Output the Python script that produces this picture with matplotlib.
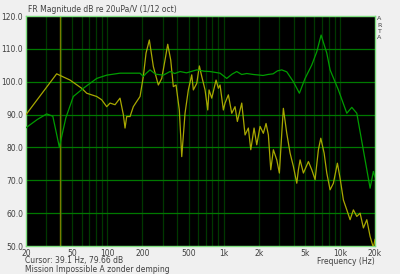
import numpy as np
import matplotlib
matplotlib.use("Agg")
import matplotlib.pyplot as plt

# Green response (Hz, dB)
green_f = [20, 25, 30.1, 34, 38.7, 44, 51.0, 62.2, 81.1, 98.8, 128.6, 156.8, 191, 204,
           215, 233, 260, 303, 346, 380, 422, 480, 587, 680, 764, 860, 931, 1063, 1180,
           1296, 1430, 1580, 1800, 2056, 2181, 2400, 2660, 2900, 3160, 3488, 3976, 4477,
           5013, 5723, 6316, 6880, 7702, 8222, 9690, 11445, 12636, 13950, 16440, 18150,
           19370, 20000]
green_db = [86, 88.5, 90.2, 89.5, 80.1, 89, 95.5, 98, 101, 102, 102.6, 102.6, 102.6, 101.6,
            102.5, 103.6, 102.3, 102, 103.1, 102.5, 103.1, 102.7, 103.6, 103.2, 103.1, 102.8,
            102.6, 101, 102.3, 103.1, 102.2, 102.5, 102.2, 102, 101.9, 102.2, 102.4, 103.3,
            103.6, 103, 100, 96.5, 101, 105.1, 109.1, 114.2, 108.7, 103.6, 97.5, 90.4, 92.2,
            90.4, 76.2, 67.6, 72.7, 71]

# Yellow response (Hz, dB)
yellow_f = [20, 36.7, 47.8, 60.2, 66.5, 73.4, 81.1, 89.5, 98.8, 105.5, 116.5, 128.6, 137.3,
            142.0, 146.8, 156.8, 167.3, 179.0, 191.1, 204.0, 215.2, 229.8, 248.7, 274.5,
            293.6, 313.4, 330.6, 350.8, 369.4, 389.7, 416.0, 436.3, 465.7, 497.2, 531.8,
            549, 587.3, 618.3, 648.4, 692.1, 730.1, 749.1, 790.2, 860.6, 900.7, 931.4,
            994.3, 1028, 1098, 1174, 1253, 1312, 1431, 1528, 1631, 1711, 1826, 1926, 2056,
            2194, 2315, 2424, 2541, 2676, 2863, 3013, 3159, 3261, 3488, 3724, 3976, 4253,
            4390, 4540, 4847, 5353, 5723, 6110, 6523, 6839, 7303, 7702, 8222, 8777, 9502,
            10020, 10700, 11442, 12217, 13040, 13950, 14893, 15899, 17006, 18155, 19370, 20000]
yellow_db = [90, 102.4, 100.5, 98, 96.5, 96, 95.5, 94.5, 92.4, 93.5, 93, 95, 90, 85.9, 89.4,
             89.4, 92.4, 94, 95.5, 101.6, 108.7, 112.7, 104.6, 99, 101, 106.6, 111.4, 106.6,
             98.5, 99, 91.4, 77.2, 90.4, 97.5, 102.1, 97.5, 99.5, 104.8, 101.6, 97.5, 91.4,
             97.5, 95, 100.5, 98, 99, 91.4, 93.5, 96, 90.4, 92.4, 87.9, 93.5, 83.8, 85.9, 79.3,
             85.9, 80.8, 86.4, 84.3, 87.3, 83.8, 73.2, 79.3, 76.2, 72.2, 84.3, 91.9, 84.3,
             78.3, 74.2, 69.1, 73.2, 76.2, 72.2, 75.7, 73.2, 70.2, 79.3, 82.8, 78.3, 72.2,
             67.1, 69.1, 75.2, 70.6, 64, 61, 58, 61, 59, 60, 55.5, 58, 52.9, 49.5, 52]

cursor_f = 39.1
xtick_vals = [20, 50, 100, 200, 500, 1000, 2000, 5000, 10000, 20000]
xtick_labels = ["20", "50", "100", "200", "500", "1k", "2k", "5k", "10k", "20k"]
ytick_vals = [50, 60, 70, 80, 90, 100, 110, 120]

fig = plt.figure(figsize=(4.0, 2.74), dpi=100, facecolor="#f0f0f0")
ax = fig.add_axes([26/400, 1-246/274, 349/400, 230/274])
ax.set_facecolor("black")
ax.set_xscale("log")
ax.set_xlim(20, 20000)
ax.set_ylim(50, 120)

# vertical grid
for dec in [10, 100, 1000, 10000]:
    for m in range(1, 10):
        f = dec * m
        if 20 < f < 20000:
            ax.axvline(f, color="#003800", lw=0.9, zorder=1)
for y in ytick_vals[1:-1]:
    ax.axhline(y, color="#007800", lw=0.9, zorder=1)

ax.axvline(cursor_f, color="#7a7a00", lw=1.0, zorder=2)

ax.plot(yellow_f, yellow_db, color="#a8a800", lw=0.9, zorder=3)
ax.plot(green_f, green_db, color="#009c00", lw=0.9, zorder=4)

for s in ax.spines.values():
    s.set_color("#80e080")
    s.set_linewidth(1.0)

fs = 5.5
tc = "#404040"
ax.set_xticks(xtick_vals)
ax.set_xticklabels(xtick_labels)
ax.xaxis.set_minor_locator(matplotlib.ticker.NullLocator())
ax.set_yticks(ytick_vals)
ax.set_yticklabels([f"{v:.1f}" for v in ytick_vals])
ax.tick_params(length=0, labelsize=fs, labelcolor=tc, pad=2)

fig.text(28/400, 1-10/274, "FR Magnitude dB re 20uPa/V (1/12 oct)", fontsize=fs, color=tc, va="center", ha="left")
for i, ch in enumerate("ARTA"):
    fig.text(377/400, 1-(19 + i*6.3)/274, ch, fontsize=4.6, color=tc, va="center", ha="left")
fig.text(25/400, 1-261/274, "Cursor: 39.1 Hz, 79.66 dB", fontsize=fs, color=tc, va="center", ha="left")
fig.text(375/400, 1-261/274, "Frequency (Hz)", fontsize=fs, color=tc, va="center", ha="right")
fig.text(25/400, 1-269/274, "Mission Impossible A zonder demping", fontsize=fs, color=tc, va="center", ha="left")

fig.savefig("out.png", dpi=100, facecolor=fig.get_facecolor())
